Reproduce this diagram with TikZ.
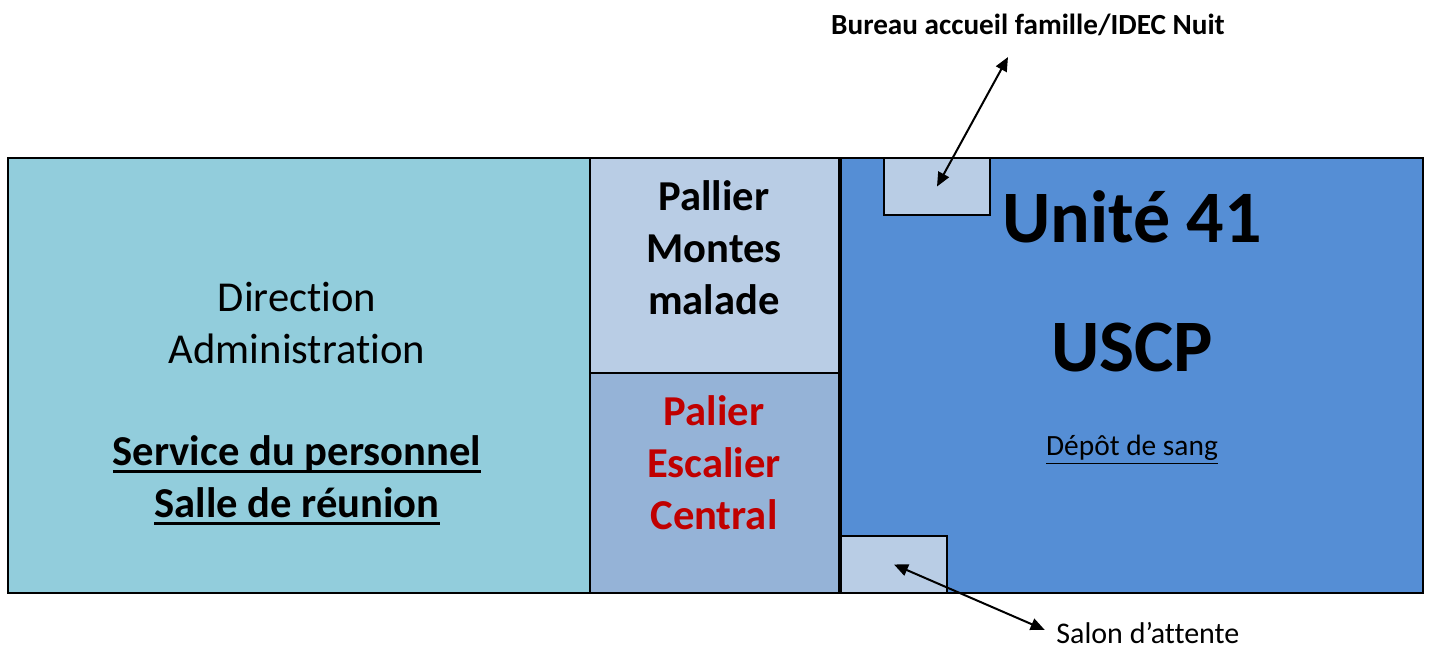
\documentclass[tikz,border=0pt]{standalone}
\usepackage{fontspec}
\setmainfont{Carlito}[Ligatures={TeX,NoCommon}]
\usetikzlibrary{arrows.meta}
\definecolor{adminblue}{HTML}{92CDDC}
\definecolor{montesblue}{HTML}{B9CDE5}
\definecolor{escalierblue}{HTML}{95B3D7}
\definecolor{uniteblue}{HTML}{558ED5}
\definecolor{palierred}{HTML}{C00000}
\newcommand{\thickul}[1]{\setbox0=\hbox{#1}\rlap{\copy0}\raisebox{-3.6pt}{\rule{\wd0}{1.3pt}}}
\begin{document}
\begin{tikzpicture}[x=0.5pt, y=-0.5pt,
    room/.style={draw, line width=1pt, inner sep=0pt, anchor=north west},
    label/.style={align=center, font=\fontsize{21.3}{26}\selectfont},
    boldlabel/.style={align=center, font=\fontsize{21.3}{26}\selectfont\bfseries},
    biglabel/.style={align=center, font=\fontsize{37}{44}\selectfont\bfseries},
    pointer/.style={{Triangle[length=7pt,width=6pt]}-{Triangle[length=7pt,width=6pt]}, line width=1pt}]
    \useasboundingbox (0,0) rectangle (1432,648);
    \fill[white] (0,0) rectangle (1432,648);
    % rooms
    \node[room, fill=adminblue, minimum width=291pt, minimum height=217.5pt] (direction) at (7,157) {};
    \node[room, fill=montesblue, minimum width=124.5pt, minimum height=107.5pt] (montes) at (589,157) {};
    \node[room, fill=escalierblue, minimum width=124.5pt, minimum height=110pt] (escalier) at (589,372) {};
    \node[room, fill=uniteblue, minimum width=291pt, minimum height=217.5pt] (unite) at (840,157) {};
    \node[room, fill=montesblue, minimum width=53pt, minimum height=28.5pt] (bureau) at (883,157) {};
    \node[room, fill=montesblue, minimum width=53pt, minimum height=28.5pt] (salon) at (840,535) {};
    % texts
    \node[label] (admin) at (297,323) {Direction\\Administration};
    \node[boldlabel] (personnel) at (297,480)
        {\thickul{Service du personnel}\\\thickul{Salle de réunion}};
    \node[boldlabel] (montestext) at (714,248) {Pallier\\Montes\\malade};
    \node[boldlabel, text=palierred] (escaliertext) at (714,463) {Palier\\Escalier\\Central};
    \node[biglabel] (unitetext) at (1132,217) {Unité 41};
    \node[biglabel] (uscp) at (1132,348) {USCP};
    \node[font=\fontsize{14.7}{17}\selectfont] (depot) at (1132,450) {\underline{Dépôt de sang}};
    \node[font=\fontsize{14.6}{17}\selectfont\bfseries] (bureautext) at (1028,25) {Bureau accueil famille/IDEC Nuit};
    \node[font=\fontsize{15}{17}\selectfont, anchor=west, inner sep=2pt] (salontext) at (1052,633) {Salon d’attente};
    % pointers
    \coordinate (bureautip) at (1008,57);
    \draw[pointer] (bureau.center) -- (bureautip);
    \draw[pointer, shorten >=4pt] (salon.center) -- (salontext.west);
\end{tikzpicture}
\end{document}
